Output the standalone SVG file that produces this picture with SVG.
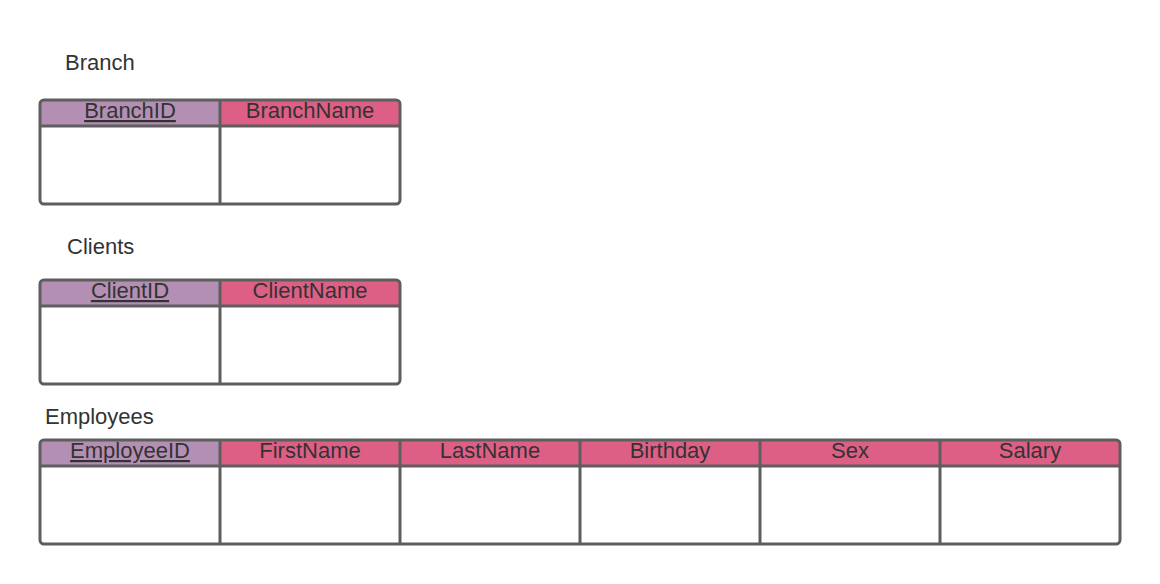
<svg xmlns="http://www.w3.org/2000/svg" width="1160" height="584" viewBox="0 0 1160 584">
<style>
.t{font-family:"Liberation Sans",Arial,sans-serif;font-size:22px;fill:#333333}
.h{font-family:"Liberation Sans",Arial,sans-serif;font-size:22px;fill:#333333;text-anchor:middle}
.u{text-decoration:underline}
.pk{fill:#b38fb3}
.at{fill:#de5f85}
.ln{fill:none;stroke:#5e5e5e;stroke-width:3}
.bd{fill:#ffffff}
</style>
<rect width="1160" height="584" fill="#ffffff"/>
<g id="branch">
<text class="t" x="65" y="70">Branch</text>
<rect class="bd" x="40" y="100" width="360" height="104" rx="4"/>
<path class="pk" d="M40,126 V104 A4,4 0 0 1 44,100 H220 V126 Z"/>
<path class="at" d="M220,126 V100 H396 A4,4 0 0 1 400,104 V126 Z"/>
<text class="h u" x="130" y="118">BranchID</text>
<text class="h" x="310" y="118">BranchName</text>
<rect class="ln" x="40" y="100" width="360" height="104" rx="4"/>
<path class="ln" d="M40,126 H400 M220,100 V204"/>
</g>
<g id="clients">
<text class="t" x="67" y="254">Clients</text>
<rect class="bd" x="40" y="280" width="360" height="104" rx="4"/>
<path class="pk" d="M40,306 V284 A4,4 0 0 1 44,280 H220 V306 Z"/>
<path class="at" d="M220,306 V280 H396 A4,4 0 0 1 400,284 V306 Z"/>
<text class="h u" x="130" y="298">ClientID</text>
<text class="h" x="310" y="298">ClientName</text>
<rect class="ln" x="40" y="280" width="360" height="104" rx="4"/>
<path class="ln" d="M40,306 H400 M220,280 V384"/>
</g>
<g id="employees">
<text class="t" x="45" y="424">Employees</text>
<rect class="bd" x="40" y="440" width="1080" height="104" rx="4"/>
<path class="pk" d="M40,466 V444 A4,4 0 0 1 44,440 H220 V466 Z"/>
<path class="at" d="M220,466 V440 H1116 A4,4 0 0 1 1120,444 V466 Z"/>
<text class="h u" x="130" y="458">EmployeeID</text>
<text class="h" x="310" y="458">FirstName</text>
<text class="h" x="490" y="458">LastName</text>
<text class="h" x="670" y="458">Birthday</text>
<text class="h" x="850" y="458">Sex</text>
<text class="h" x="1030" y="458">Salary</text>
<rect class="ln" x="40" y="440" width="1080" height="104" rx="4"/>
<path class="ln" d="M40,466 H1120 M220,440 V544 M400,440 V544 M580,440 V544 M760,440 V544 M940,440 V544"/>
</g>
<g id="connectors"/>
</svg>
